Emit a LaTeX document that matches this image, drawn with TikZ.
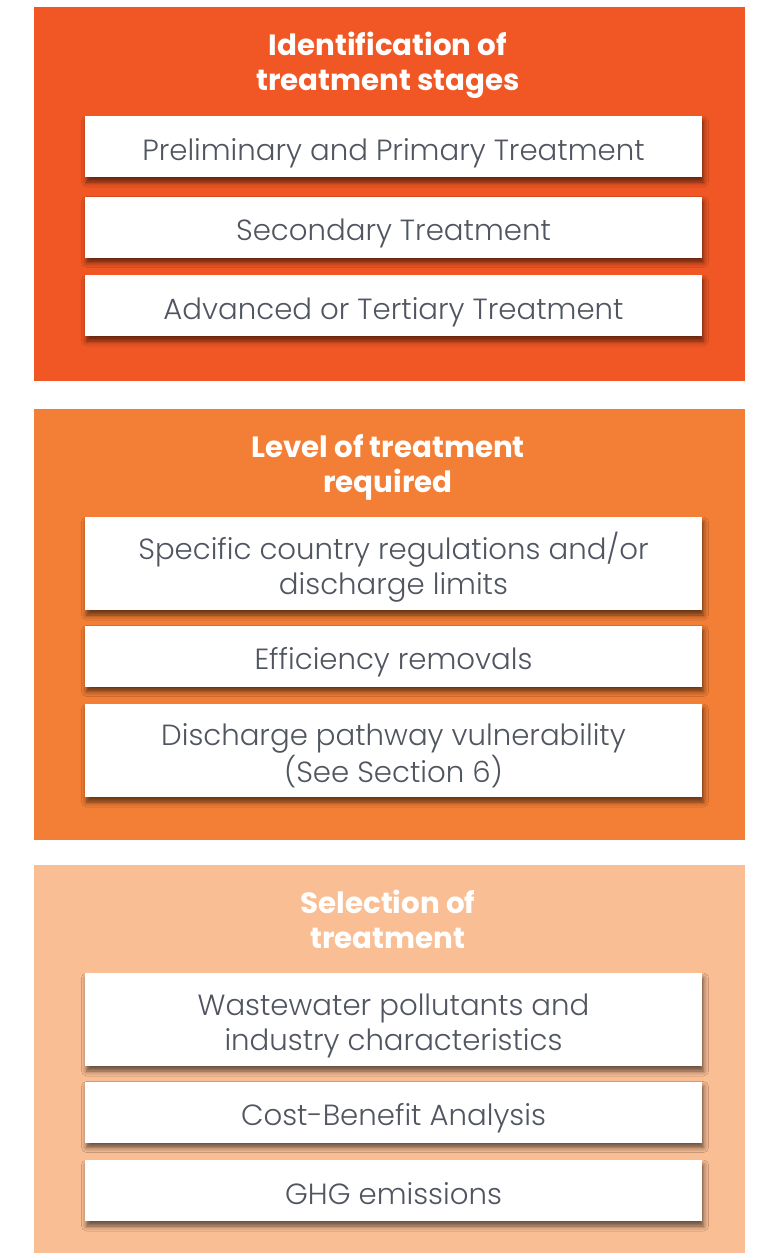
\documentclass[tikz,border=0pt]{standalone}
\usepackage{fontspec}
\usetikzlibrary{shadows.blur}
\newfontfamily\bodyfont{Poppins Light}
\newfontfamily\headfont{Poppins Bold}
\definecolor{stageA}{RGB}{240,87,36}
\definecolor{stageB}{RGB}{243,126,53}
\definecolor{stageC}{RGB}{250,190,148}
\definecolor{bodytext}{RGB}{80,85,96}
% invisible struts: one sets the height above the first baseline,
% the other the depth below the last one
\newcommand\itemtop{\rule{0pt}{37pt}}
\newcommand\itembot{\rule[-10pt]{0pt}{10pt}}
\newcommand\headtop{\rule{0pt}{25pt}}
\newcommand\headbot{\rule[-25pt]{0pt}{25pt}}
\newcommand\itemline[1]{\itemtop#1\itembot}
\newcommand\itemlines[2]{\itemtop#1\\#2\itembot}
\newcommand\headlines[2]{\headtop#1\\#2\headbot}
\begin{document}
\begin{tikzpicture}[x=1pt,y=-1pt,
  heading/.style={text=white,font=\headfont\fontsize{29.3}{35}\selectfont,align=center,inner sep=0pt},
  itembox/.style={fill=white,draw=none,inner sep=0pt,outer sep=0pt,
    minimum width=617pt,minimum height=#1,
    text=bodytext,font=\bodyfont\fontsize{29.2}{35}\selectfont,align=center,
    blur shadow={shadow xshift=1.5pt,shadow yshift=-5pt,shadow blur radius=5pt,shadow opacity=60}},
  itembox/.default=61pt]
\useasboundingbox (0,0) rectangle (758,1253);
% three stacked panels
\fill[stageA] (34,7) rectangle (745,381);
\fill[stageB] (34,409) rectangle (745,840);
\fill[stageC] (34,865) rectangle (745,1253);
% panel 1
\node[heading] (h1) at (388,72.5) {\headlines{Identification of}{treatment stages}};
\node[itembox] (a1) at (393.5,146.5) {\itemline{Preliminary and Primary Treatment}};
\node[itembox] (a2) at (393.5,227) {\itemline{Secondary Treatment}};
\node[itembox] (a3) at (393.5,305.5) {\itemline{Advanced or Tertiary Treatment}};
% panel 2
\node[heading] (h2) at (388,474.5) {\headlines{Level of treatment}{required}};
\node[itembox=93pt] (b1) at (393.5,563.5) {\itemlines{Specific country regulations and/or}{discharge limits}};
\node[itembox] (b2) at (393.5,656) {\itemline{Efficiency removals}};
\node[itembox=93pt] (b3) at (393.5,750.5) {\itemlines{Discharge pathway vulnerability}{(See Section 6)}};
% panel 3
\node[heading] (h3) at (388,931) {\headlines{Selection of}{treatment}};
\node[itembox=93pt] (c1) at (393.5,1019.5) {\itemlines{Wastewater pollutants and}{industry characteristics}};
\node[itembox] (c2) at (393.5,1112) {\itemline{Cost-Benefit Analysis}};
\node[itembox] (c3) at (393.5,1190.5) {\itemline{GHG emissions}};
\end{tikzpicture}
\end{document}
